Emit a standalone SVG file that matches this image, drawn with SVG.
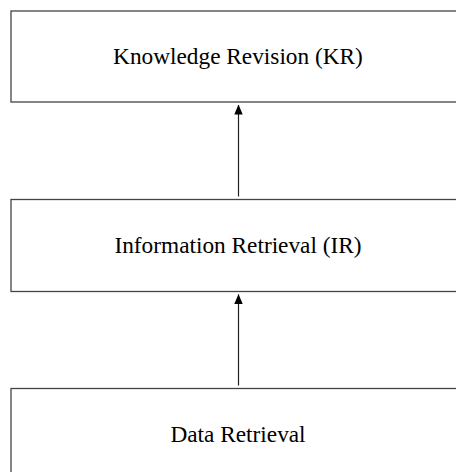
<svg xmlns="http://www.w3.org/2000/svg" width="456" height="472" viewBox="0 0 456 472">
<style>
.box{fill:#fff;stroke:#444;stroke-width:1.3}
.lbl{font-family:"Liberation Serif","Times New Roman",serif;font-size:23.3px;fill:#000;text-anchor:middle}
.conn{stroke:#222;stroke-width:1.2;fill:none}
</style>
<defs>
<marker id="ah" markerUnits="userSpaceOnUse" markerWidth="10" markerHeight="10" viewBox="0 0 10 10" refX="9.5" refY="5" orient="auto">
<path d="M0,0.8 L10,5 L0,9.2 Z" fill="#000"/>
</marker>
</defs>
<rect width="456" height="472" fill="#fff"/>
<g id="node-kr">
<rect class="box" x="11" y="11" width="460" height="91"/>
<text class="lbl" x="238" y="64">Knowledge Revision (KR)</text>
</g>
<g id="node-ir">
<rect class="box" x="11" y="199.5" width="460" height="92"/>
<text class="lbl" x="238" y="253">Information Retrieval (IR)</text>
</g>
<g id="node-dr">
<rect class="box" x="11" y="388.5" width="460" height="100"/>
<text class="lbl" x="238" y="442">Data Retrieval</text>
</g>
<g id="connectors">
<line class="conn" x1="238.5" y1="196.5" x2="238.5" y2="105" marker-end="url(#ah)"/>
<line class="conn" x1="238.5" y1="385.5" x2="238.5" y2="294.5" marker-end="url(#ah)"/>
</g>
</svg>
